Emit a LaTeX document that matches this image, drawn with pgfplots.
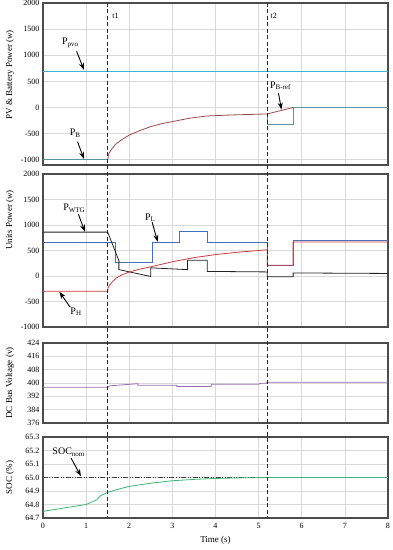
\documentclass[border=0pt]{standalone}
\usepackage{fontspec}
\setmainfont{Liberation Serif}
\usepackage{pgfplots}
\pgfplotsset{compat=1.18}
\usetikzlibrary{arrows.meta}
\definecolor{cpv}{RGB}{60,180,210}
\definecolor{cbref}{RGB}{90,150,160}
\definecolor{cb}{RGB}{150,75,75}
\definecolor{cwtg}{RGB}{35,35,35}
\definecolor{cl}{RGB}{70,110,190}
\definecolor{ch}{RGB}{205,60,60}
\definecolor{cv}{RGB}{150,110,180}
\definecolor{csoc}{RGB}{60,180,120}
\newcommand\sub[1]{\raisebox{-0.3ex}{\fontsize{7}{7}\selectfont #1}}
\tikzset{anno/.style={-{Stealth[length=7pt,width=5pt]}, line width=0.9pt, black},
  lab/.style={inner sep=0pt, font=\fontsize{10}{10}\selectfont}}
\pgfplotsset{panel/.style={
  scale only axis, width=345pt, xmin=0, xmax=8, xtick={0,...,8},
  grid=major, major grid style={draw=black!15, line width=0.7pt},
  axis line style={draw=black!70, line width=1.2pt},
  major tick length=0pt,
  tick label style={font=\fontsize{8}{9}\selectfont},
  /pgf/number format/assume math mode=true,
  /pgf/number format/1000 sep={},
  label style={font=\fontsize{9}{10}\selectfont},
  every axis plot/.append style={line width=0.8pt},
}}
\begin{document}
\begin{tikzpicture}
\useasboundingbox (0pt,0pt) rectangle (393pt,550pt);
% ---------- Panel 1 ----------
\begin{axis}[panel, at={(43pt,547pt)}, anchor=north west, height=162pt,
  ymin=-1100, ymax=2000, ytick={-1000,-500,...,2000}, xticklabel=\empty,
  ylabel={PV \& Battery Power (w)},
  ylabel style={at={(axis description cs:-0.096,0.556)}, anchor=center}]
\addplot[cpv] coordinates {(0,700)(8,700)};
\addplot[cbref] coordinates {(0,-1000)(1.5,-1000)};
\addplot[cb] coordinates {(1.5,-1000)(1.52,-900)(1.55,-846)(1.6,-790)(1.68,-706)(1.8,-630)(2.0,-527)(2.25,-440)(2.5,-365)(2.75,-310)(3.0,-269)(3.4,-205)(3.8,-162)(4.4,-142)(5.2,-123)(5.8,0)};
\addplot[cbref] coordinates {(5.2,-123)(5.2,-330)(5.8,-330)(5.8,0)(8,0)};
\node[lab] at (axis cs:0.63,1236) {P\sub{pvo}};
\draw[anno] (axis cs:0.78,1075) -- (axis cs:0.95,720);
\node[lab] at (axis cs:0.74,-494) {P\sub{B}};
\draw[anno] (axis cs:0.8,-654) -- (axis cs:0.95,-985);
\node[lab] at (axis cs:5.5,421) {P\sub{B-ref}};
\draw[anno] (axis cs:5.46,275) -- (axis cs:5.53,-40);
\node[inner sep=0pt, font=\fontsize{8}{8}\selectfont] at (axis cs:1.68,1750) {t1};
\node[inner sep=0pt, font=\fontsize{8}{8}\selectfont] at (axis cs:5.35,1750) {t2};
\coordinate (t1a) at (axis cs:1.5,2000);
\coordinate (t2a) at (axis cs:5.2,2000);
\end{axis}
% ---------- Panel 2 ----------
\begin{axis}[panel, at={(43pt,376pt)}, anchor=north west, height=153pt,
  ymin=-1000, ymax=2000, ytick={-1000,-500,...,2000}, xticklabel=\empty,
  ylabel={Units Power (w)},
  ylabel style={at={(axis description cs:-0.096,0.70)}, anchor=center}]
\addplot[cl] coordinates {(0,660)(1.68,660)(1.68,270)(2.53,270)(2.53,660)(3.16,660)(3.16,868)(3.81,868)(3.81,650)(5.2,650)(5.2,210)(5.8,210)(5.8,700)(8,700)};
\addplot[cwtg] coordinates {(0,860)(1.5,860)(1.76,300)(1.76,125)(2.5,-10)(2.5,160)(3.35,125)(3.35,310)(3.81,310)(3.81,90)(5.2,80)(5.2,-15)(5.8,-15)(5.8,60)(8,50)};
\addplot[ch] coordinates {(0,-300)(1.5,-300)(1.51,-230)(1.55,-170)(1.6,-120)(1.7,-40)(1.8,10)(2.0,80)(2.25,135)(2.5,180)(2.75,230)(3.0,280)(3.5,360)(4.0,420)(4.5,465)(5.0,500)(5.2,515)(5.2,210)(5.8,210)(5.8,665)(8,665)};
\node[lab] at (axis cs:0.72,1326) {P\sub{WTG}};
\draw[anno] (axis cs:0.82,1213) -- (axis cs:0.97,870);
\node[lab] at (axis cs:2.48,1138) {P\sub{L}};
\draw[anno] (axis cs:2.53,1057) -- (axis cs:2.66,670);
\node[lab] at (axis cs:0.76,-706) {P\sub{H}};
\draw[anno] (axis cs:0.63,-611) -- (axis cs:0.38,-310);
\end{axis}
% ---------- Panel 3 ----------
\begin{axis}[panel, at={(43pt,207pt)}, anchor=north west, height=80pt,
  ymin=376, ymax=424, ytick={376,384,...,424}, xticklabel=\empty,
  ylabel={DC Bus Voltage (v)},
  ylabel style={at={(axis description cs:-0.096,0.5)}, anchor=center}]
\addplot[cv] coordinates {(0,397.4)(1.5,397.4)(1.55,398.3)(2.2,399.6)(2.2,398.6)(3.1,398.6)(3.1,397.9)(3.9,397.9)(3.9,399.3)(5.0,399.3)(5.05,399.8)(5.18,399.9)(5.2,400.5)(8,400.5)};
\end{axis}
% ---------- Panel 4 ----------
\begin{axis}[panel, at={(43pt,113pt)}, anchor=north west, height=81pt,
  ymin=64.7, ymax=65.3, ytick={64.7,64.8,...,65.3},
  yticklabel style={/pgf/number format/.cd, fixed, fixed zerofill, precision=1},
  xticklabel style={yshift=-2pt},
  ylabel={SOC (\%)},
  ylabel style={at={(axis description cs:-0.096,0.5)}, anchor=center},
  xlabel={Time (s)},
  xlabel style={at={(axis description cs:0.5,-0.27)}, anchor=center}]
\addplot[black!75, line width=0.8pt, dash pattern=on 5pt off 1.5pt on 1pt off 1.5pt on 1pt off 1.5pt] coordinates {(0,65)(8,65)};
\addplot[csoc] coordinates {(0,64.749)(0.5,64.775)(1.0,64.80)(1.25,64.835)(1.3,64.855)(1.35,64.868)(1.5,64.89)(1.75,64.914)(2.0,64.934)(2.5,64.958)(3.0,64.976)(3.5,64.986)(4.0,64.993)(4.5,64.997)(5.0,64.999)(5.5,65.0)(8,65.0)};
\node[lab] at (axis cs:0.59,65.186) {SOC\sub{nom}};
\draw[anno] (axis cs:0.65,65.144) -- (axis cs:0.88,65.01);
\coordinate (t1b) at (axis cs:1.5,64.7);
\coordinate (t2b) at (axis cs:5.2,64.7);
\end{axis}
\draw[black!85, line width=1pt, dash pattern=on 4pt off 2.5pt] (t1a) -- (t1b);
\draw[black!85, line width=1pt, dash pattern=on 4pt off 2.5pt] (t2a) -- (t2b);
\end{tikzpicture}
\end{document}
